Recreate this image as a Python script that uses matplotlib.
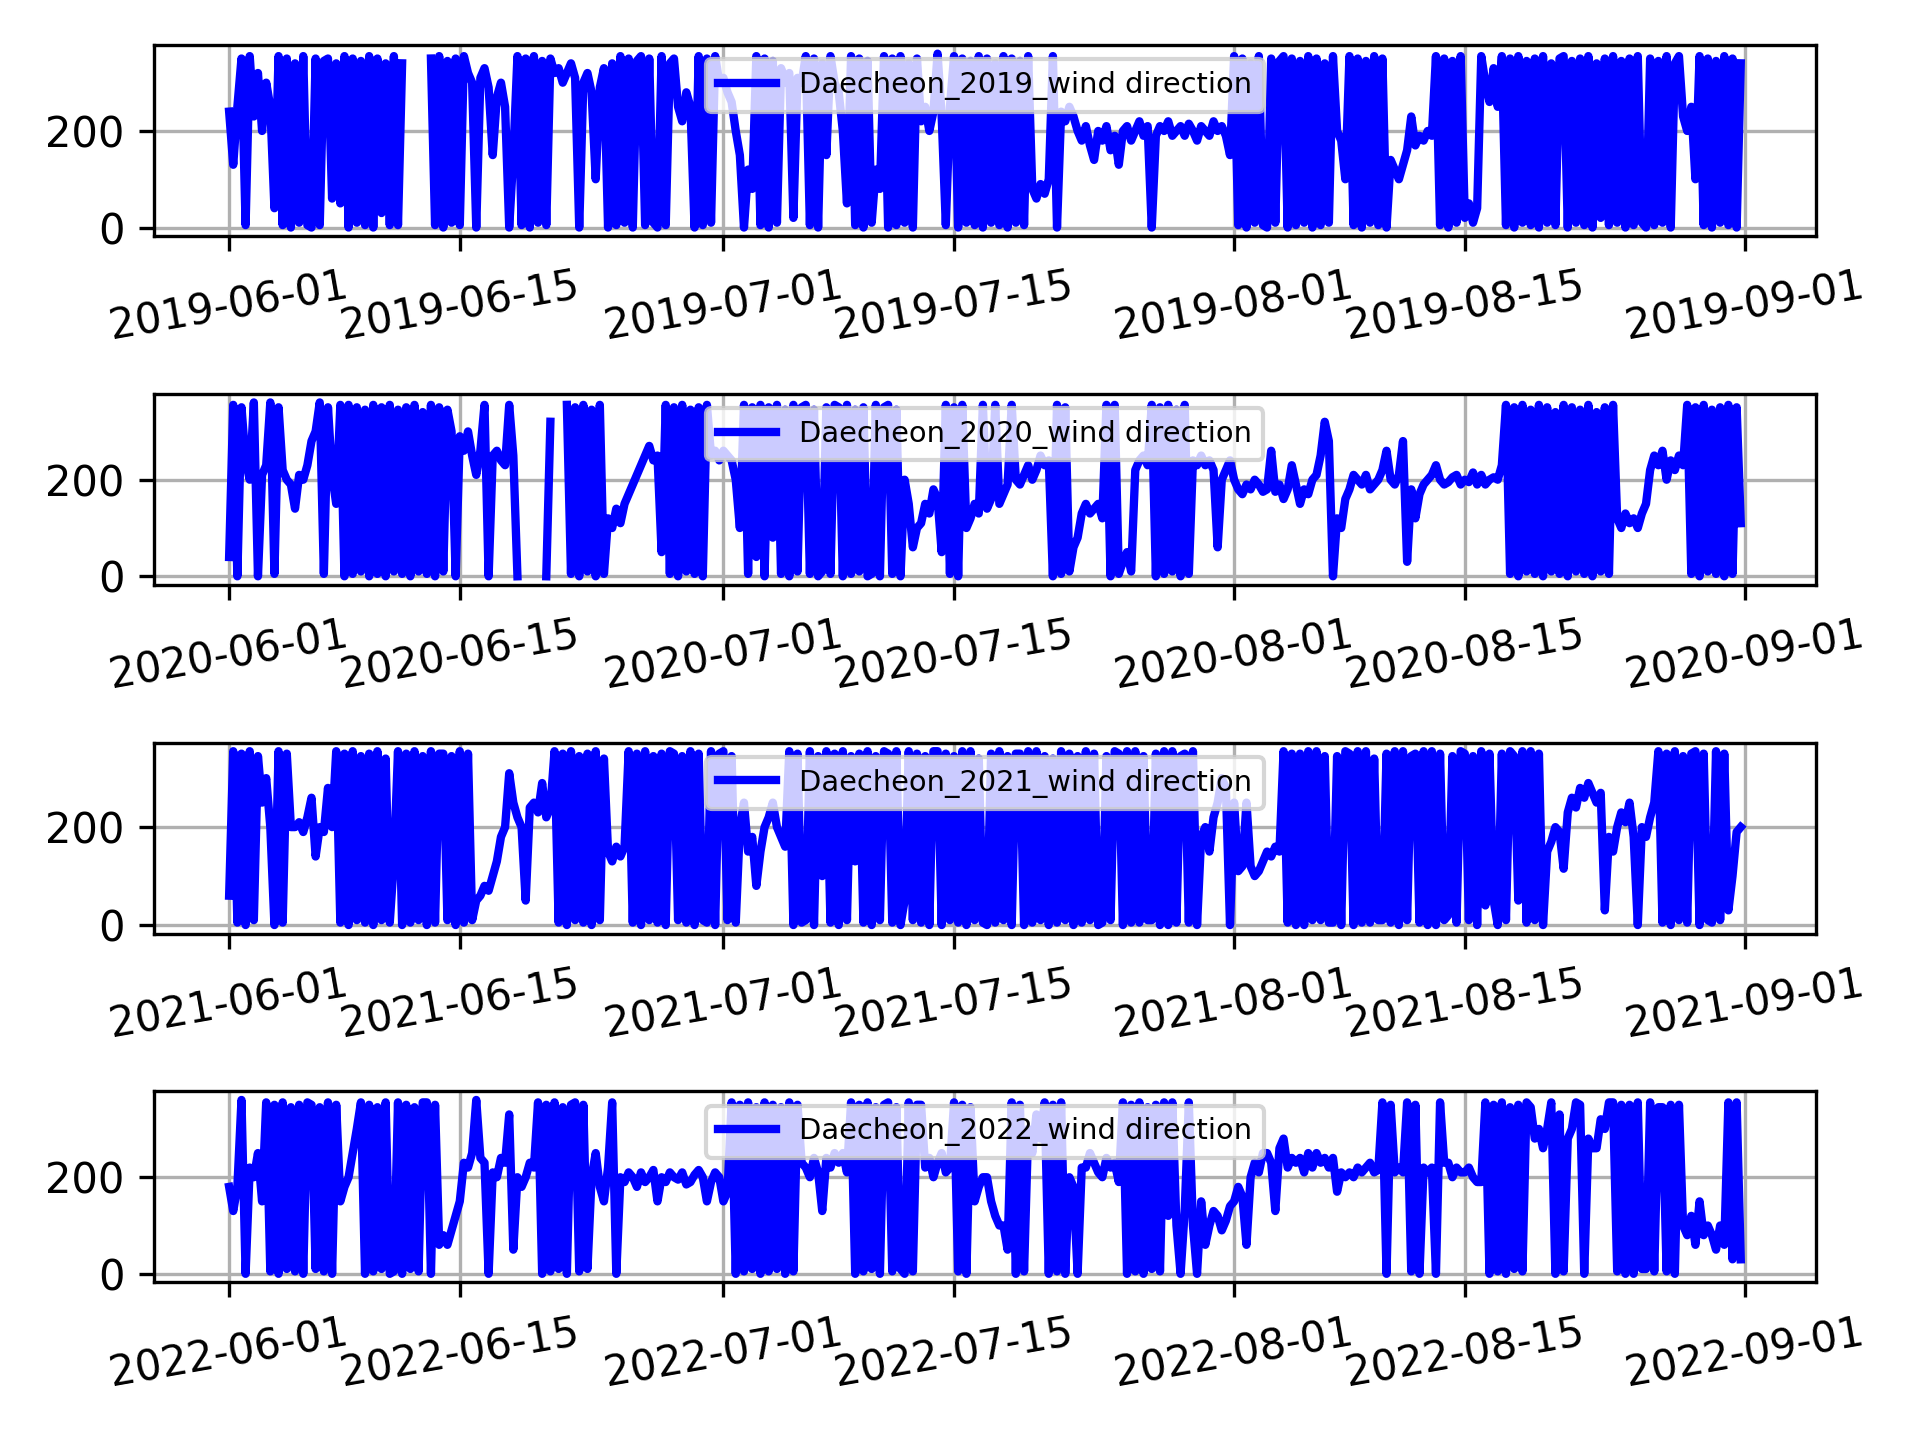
import numpy as np
import pandas as pd
import matplotlib
matplotlib.use("Agg")
import matplotlib.pyplot as plt

nan = np.nan

# wind direction (deg), four readings per day (00, 06, 12, 18 h) from 1 June,
# read off the reference; nan = missing data
years = [2019, 2020, 2021, 2022]

wd_2019 = [
    240, 130, 250, 350, 5, 355, 230, 320, 200, 300, 250, 40, 355, 5, 350, 0,
    340, 10, 355, 5, 0, 350, 5, 345, 350, 60, 340, 50, 355, 0, 350, 10,
    345, 5, 355, 0, 350, 30, 340, 5, 355, 5, 340, nan, nan, nan, nan, nan,
    nan, 350, 5, 355, 0, 345, 10, 350, 5, 355, 320, 300, 0, 310, 330, 290,
    150, 270, 300, 250, 0, 150, 355, 5, 350, 0, 355, 10, 345, 5, 350, 320,
    330, 300, 320, 340, 310, 0, 300, 320, 280, 100, 290, 330, 0, 340, 5, 355,
    10, 350, 0, 345, 355, 5, 350, 10, 0, 355, 5, 340, 350, 250, 220, 280,
    250, 0, 355, 5, 350, 10, 355, 300, 310, 280, 260, 200, 150, 0, 120, 80,
    355, 5, 350, 0, 345, 10, 330, 300, 320, 20, 310, 300, 355, 5, 350, 0,
    340, 150, 355, 300, 280, 200, 50, 355, 5, 350, 0, 345, 10, 120, 80, 355,
    0, 350, 5, 355, 10, 340, 0, 350, 220, 250, 200, 240, 360, 230, 5, 250,
    355, 0, 350, 10, 345, 5, 355, 0, 350, 10, 340, 5, 355, 0, 350, 10,
    345, 5, 355, 80, 60, 90, 70, 100, 355, 0, 240, 220, 250, 230, 200, 180,
    210, 170, 140, 200, 180, 210, 160, 190, 130, 200, 210, 180, 200, 220, 190, 210,
    0, 190, 210, 200, 220, 190, 200, 210, 190, 215, 200, 180, 210, 200, 190, 220,
    200, 210, 190, 150, 355, 5, 350, 0, 340, 10, 355, 5, 0, 350, 10, 345,
    355, 0, 350, 5, 345, 10, 355, 0, 350, 5, 340, 10, 355, 200, 180, 100,
    355, 5, 350, 0, 345, 10, 355, 5, 350, 0, 140, 120, 100, 130, 160, 230,
    170, 190, 180, 200, 190, 355, 5, 350, 0, 345, 10, 355, 20, 50, 10, 40,
    355, 300, 260, 330, 250, 355, 5, 350, 0, 355, 10, 345, 5, 350, 0, 355,
    10, 340, 5, 350, 355, 0, 345, 10, 350, 5, 355, 0, 340, 20, 350, 5,
    355, 10, 345, 0, 350, 5, 355, 10, 0, 350, 5, 345, 10, 355, 0, 340,
    355, 230, 200, 250, 100, 355, 5, 350, 0, 345, 10, 355, 5, 350, 0, 340,
]

wd_2020 = [
    40, 355, 0, 350, 240, 200, 360, 0, 210, 230, 360, 5, 350, 220, 200, 190,
    140, 210, 200, 230, 280, 300, 360, 5, 350, 210, 150, 355, 0, 355, 5, 350,
    10, 345, 0, 355, 5, 350, 0, 355, 10, 345, 5, 350, 0, 355, 10, 340,
    5, 355, 0, 350, 10, 345, 300, 0, 290, 260, 300, 250, 210, 260, 355, 0,
    250, 260, 240, 230, 355, 250, 0, nan, nan, nan, nan, nan, nan, 0, 320, nan,
    nan, nan, 355, 5, 350, 0, 355, 10, 345, 0, 355, 5, 120, 100, 140, 110,
    150, 170, 190, 210, 230, 250, 270, 240, 250, 50, 355, 5, 350, 0, 355, 10,
    345, 5, 350, 0, 355, 250, 260, 240, 260, 250, 240, 200, 100, 355, 5, 350,
    40, 355, 0, 350, 80, 355, 5, 345, 0, 355, 10, 350, 355, 5, 345, 0,
    10, 350, 5, 355, 350, 0, 355, 5, 345, 10, 350, 0, 5, 355, 0, 350,
    355, 5, 345, 0, 200, 150, 60, 100, 110, 150, 130, 180, 160, 50, 355, 5,
    350, 0, 355, 100, 120, 150, 130, 355, 140, 160, 355, 150, 170, 190, 355, 200,
    190, 210, 230, 200, 220, 250, 230, 240, 0, 355, 5, 350, 10, 60, 80, 130,
    150, 130, 140, 150, 120, 355, 0, 355, 5, 30, 50, 10, 220, 240, 250, 230,
    355, 0, 350, 5, 355, 10, 345, 0, 355, 5, 240, 230, 250, 230, 240, 220,
    60, 200, 220, 240, 200, 180, 170, 190, 180, 200, 190, 175, 180, 260, 175, 190,
    160, 180, 230, 190, 150, 180, 170, 200, 210, 250, 320, 280, 0, 120, 100, 160,
    180, 210, 200, 190, 210, 180, 190, 200, 220, 260, 200, 190, 210, 280, 30, 180,
    120, 170, 190, 200, 210, 230, 200, 190, 195, 205, 210, 190, 200, 195, 215, 190,
    210, 190, 200, 205, 200, 230, 355, 5, 350, 0, 355, 10, 345, 5, 355, 0,
    350, 10, 340, 5, 355, 0, 350, 10, 345, 5, 355, 0, 340, 10, 350, 5,
    355, 120, 100, 130, 110, 120, 100, 130, 150, 220, 250, 230, 260, 200, 240, 220,
    250, 230, 355, 5, 350, 0, 355, 10, 345, 5, 350, 0, 355, 5, 350, 110,
]

wd_2021 = [
    60, 355, 5, 350, 0, 355, 10, 345, 250, 300, 200, 0, 355, 5, 350, 200,
    200, 210, 190, 220, 260, 140, 200, 190, 280, 200, 355, 5, 350, 0, 355, 10,
    345, 5, 350, 0, 355, 10, 340, 5, 130, 355, 0, 350, 5, 355, 10, 345,
    0, 355, 5, 350, 350, 10, 345, 0, 355, 5, 350, 10, 50, 60, 80, 70,
    100, 130, 180, 200, 310, 250, 220, 200, 50, 240, 250, 230, 290, 220, 240, 355,
    5, 350, 0, 355, 10, 345, 5, 350, 0, 355, 10, 340, 150, 130, 160, 140,
    160, 355, 5, 350, 0, 355, 10, 345, 5, 350, 0, 355, 350, 10, 345, 5,
    355, 0, 350, 10, 5, 355, 0, 350, 355, 10, 345, 5, 200, 250, 150, 180,
    80, 150, 200, 220, 250, 200, 180, 160, 355, 0, 350, 5, 10, 355, 0, 345,
    100, 355, 5, 350, 0, 355, 10, 345, 130, 350, 5, 355, 0, 345, 10, 355,
    350, 5, 355, 0, 50, 355, 10, 350, 5, 345, 0, 355, 355, 0, 350, 10,
    345, 5, 355, 0, 355, 10, 340, 5, 0, 350, 5, 355, 10, 345, 0, 350,
    350, 0, 355, 5, 355, 10, 345, 0, 340, 5, 355, 10, 350, 0, 345, 5,
    355, 10, 350, 0, 5, 345, 10, 355, 350, 0, 355, 5, 355, 5, 345, 10,
    10, 350, 0, 355, 0, 355, 5, 345, 350, 5, 355, 0, 180, 200, 150, 220,
    250, 300, 280, 0, 250, 110, 120, 250, 120, 100, 110, 130, 150, 140, 160, 150,
    355, 5, 350, 0, 350, 0, 355, 10, 355, 10, 345, 5, 5, 345, 0, 355,
    350, 0, 355, 5, 355, 5, 340, 10, 10, 350, 5, 355, 0, 355, 10, 345,
    350, 5, 355, 0, 355, 0, 350, 10, 20, 345, 5, 355, 350, 10, 345, 0,
    355, 40, 350, 50, 0, 350, 10, 355, 345, 50, 355, 5, 355, 10, 350, 0,
    150, 170, 200, 190, 115, 230, 260, 240, 280, 260, 290, 270, 250, 270, 30, 180,
    150, 200, 230, 210, 250, 180, 0, 200, 180, 220, 250, 355, 5, 350, 0, 355,
    10, 345, 5, 350, 355, 0, 350, 10, 5, 355, 10, 350, 30, 100, 190, 200,
]

wd_2022 = [
    180, 130, 180, 360, 0, 220, 200, 250, 150, 355, 5, 350, 0, 355, 10, 345,
    5, 350, 0, 355, 350, 10, 345, 5, 355, 0, 350, 150, 180, 200, 250, 300,
    355, 0, 350, 5, 345, 10, 355, 0, 5, 355, 0, 350, 10, 345, 5, 355,
    355, 0, 350, 60, 80, 60, 90, 120, 150, 230, 220, 250, 360, 240, 230, 0,
    210, 200, 240, 230, 330, 50, 200, 180, 200, 230, 220, 355, 0, 350, 5, 355,
    10, 345, 0, 350, 355, 5, 350, 10, 200, 250, 180, 150, 220, 355, 0, 200,
    190, 210, 200, 180, 210, 190, 200, 215, 150, 200, 190, 210, 200, 195, 210, 185,
    190, 205, 215, 200, 150, 190, 210, 200, 150, 170, 355, 0, 350, 5, 355, 10,
    345, 0, 355, 5, 350, 10, 345, 0, 355, 5, 350, 230, 220, 200, 240, 210,
    130, 240, 220, 250, 230, 250, 210, 355, 0, 350, 5, 355, 10, 345, 0, 350,
    355, 5, 345, 10, 0, 355, 5, 350, 350, 220, 240, 200, 230, 250, 210, 220,
    355, 5, 350, 0, 345, 150, 180, 200, 200, 150, 120, 100, 100, 50, 355, 0,
    350, 5, 300, 250, 330, 280, 355, 0, 350, 5, 355, 0, 200, 180, 0, 220,
    220, 250, 230, 210, 200, 240, 220, 230, 190, 355, 0, 350, 5, 355, 0, 345,
    10, 350, 5, 355, 120, 355, 100, 0, 130, 355, 100, 0, 150, 60, 100, 130,
    120, 90, 110, 140, 150, 180, 160, 60, 200, 230, 210, 250, 250, 230, 130, 260,
    280, 220, 240, 230, 240, 210, 250, 220, 250, 230, 240, 220, 240, 170, 210, 200,
    210, 200, 220, 210, 220, 230, 210, 215, 355, 0, 350, 210, 220, 210, 355, 5,
    350, 0, 220, 210, 220, 0, 355, 230, 230, 200, 220, 210, 210, 220, 200, 190,
    190, 355, 0, 350, 5, 355, 0, 345, 10, 350, 5, 355, 345, 280, 300, 260,
    300, 355, 0, 330, 5, 280, 300, 355, 350, 0, 280, 260, 260, 320, 300, 355,
    355, 5, 350, 0, 350, 0, 355, 10, 10, 355, 5, 345, 345, 5, 350, 0,
    350, 100, 80, 120, 60, 150, 80, 100, 80, 50, 100, 60, 355, 30, 355, 30,
]


def plot_wind_direction():
    series = [wd_2019, wd_2020, wd_2021, wd_2022]
    fig, axes = plt.subplots(4, 1, figsize=(6.4, 4.8), dpi=300)
    for ax, year, vals in zip(axes, years, series):
        t = pd.date_range(f"{year}-06-01", periods=len(vals), freq="6h")
        ax.plot(t, vals, "b", linewidth=2, label=f"Daecheon_{year}_wind direction")
        ax.legend(loc="upper center", fontsize="x-small")
        ax.grid(True)
        ax.tick_params(axis="x", rotation=10)
    plt.tight_layout()
    plt.savefig("out.png")


if __name__ == "__main__":
    plot_wind_direction()
